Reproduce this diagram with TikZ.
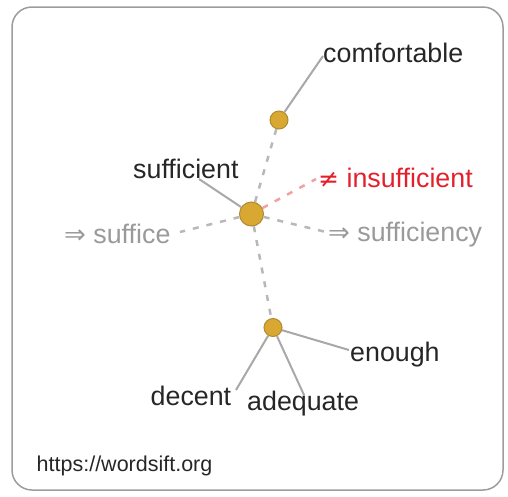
\documentclass[tikz,border=0pt]{standalone}
\usepackage{fontspec}
\setmainfont{Liberation Sans}
\newfontfamily\symfont{DejaVu Sans}
\definecolor{dotfill}{HTML}{D9A832}
\definecolor{dotedge}{HTML}{B08A30}
\definecolor{linegrey}{HTML}{A8A8A8}
\definecolor{dashgrey}{HTML}{B8B8B8}
\definecolor{wordred}{HTML}{E3202C}
\definecolor{dashred}{HTML}{F2A0A0}
\definecolor{lightword}{HTML}{9A9A9A}
\definecolor{framegrey}{HTML}{9C9C9C}
\tikzset{
  word/.style={inner sep=0pt, anchor=base west, font=\fontsize{26.8}{27}\selectfont, text=black!85},
  grayword/.style={word, text=lightword},
  redword/.style={word, text=wordred},
  dotnode/.style={circle, fill=dotfill, draw=dotedge, line width=1pt, inner sep=0pt},
  solidlink/.style={draw=linegrey, line width=2pt},
  dashlink/.style={draw=dashgrey, line width=2.5pt, dash pattern=on 6pt off 8pt},
  redlink/.style={draw=dashred, line width=2.5pt, dash pattern=on 6pt off 8pt},
}
\begin{document}
\begin{tikzpicture}[x=1pt,y=-1pt]
\useasboundingbox (0,0) rectangle (508,496);
\draw[framegrey, line width=1.5pt, rounded corners=20pt] (12,7) rectangle (503,490);

% dots
\node[dotnode, minimum size=24pt] (main) at (251.5,214) {};
\node[dotnode, minimum size=18pt] (top) at (279,120) {};
\node[dotnode, minimum size=18pt] (bot) at (273,327.5) {};

% words
\node[word] (comf) at (323,62) {comfortable};
\node[word] (suff) at (133,178.5) {sufficient};
\node[redword] (insuff) at (318,187.5) {{\symfont\fontsize{25}{25}\selectfont ≠} insufficient};
\node[grayword] (suffice) at (64,243) {{\symfont\fontsize{26}{26}\selectfont ⇒} suffice};
\node[grayword] (sufcy) at (328,241.5) {{\symfont\fontsize{26}{26}\selectfont ⇒} sufficiency};
\node[word] (enough) at (350,361.5) {enough};
\node[word] (decent) at (150.5,405.5) {decent};
\node[word] (adeq) at (247,410) {adequate};
\node[inner sep=0pt, anchor=base west, font=\fontsize{21.5}{22}\selectfont, text=black!85] (url) at (36.5,471.5) {https://wordsift.org};

% connector ends
\coordinate (comfend) at (323,56);
\coordinate (suffend) at (199,179);
\coordinate (insuffend) at (316,179);
\coordinate (sufficeend) at (180,232);
\coordinate (sufcyend) at (326,232);
\coordinate (enoughend) at (349,350);
\coordinate (decentend) at (236,390);
\coordinate (adeqend) at (304,395);

% connectors
\draw[dashlink] (main) -- (top);
\draw[dashlink] (main) -- (bot);
\draw[redlink] (main) -- (insuffend);
\draw[dashlink] (main) -- (sufficeend);
\draw[dashlink] (main) -- (sufcyend);
\draw[solidlink] (top) -- (comfend);
\draw[solidlink] (main) -- (suffend);
\draw[solidlink] (bot) -- (enoughend);
\draw[solidlink] (bot) -- (decentend);
\draw[solidlink] (bot) -- (adeqend);
\end{tikzpicture}
\end{document}
